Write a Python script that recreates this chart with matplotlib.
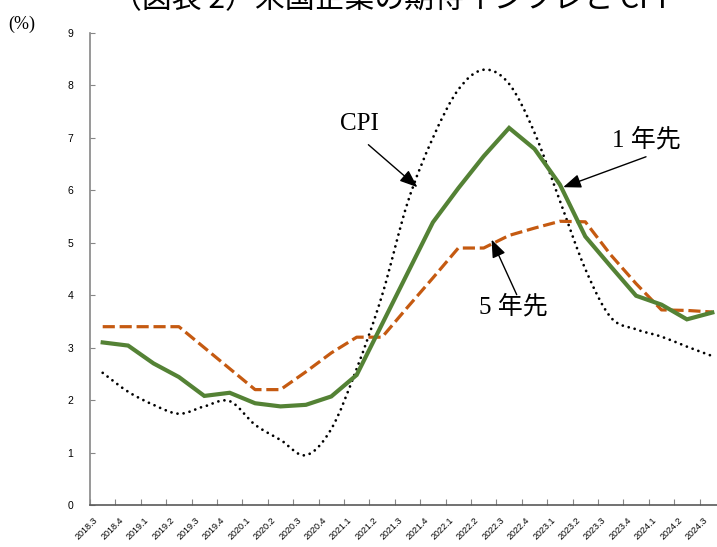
import numpy as np
import matplotlib
matplotlib.use("Agg")
from matplotlib import pyplot as plt
from matplotlib.path import Path
from matplotlib.patches import PathPatch
from matplotlib.transforms import ScaledTranslation

quarters = ["2018.3", "2018.4",
            "2019.1", "2019.2", "2019.3", "2019.4",
            "2020.1", "2020.2", "2020.3", "2020.4",
            "2021.1", "2021.2", "2021.3", "2021.4",
            "2022.1", "2022.2", "2022.3", "2022.4",
            "2023.1", "2023.2", "2023.3", "2023.4",
            "2024.1", "2024.2", "2024.3"]

# business inflation expectations, 1 year ahead / 5 years ahead (%)
one_year = [3.10, 3.04, 2.70, 2.44, 2.08, 2.14, 1.94, 1.88, 1.91, 2.07,
            2.48, 3.45, 4.42, 5.39, 6.04, 6.65, 7.19, 6.79, 6.11, 5.12,
            4.55, 3.99, 3.82, 3.54, 3.67]
five_year = [3.40, 3.40, 3.40, 3.40, 3.00, 2.60, 2.20, 2.20, 2.54, 2.90,
             3.20, 3.20, 3.77, 4.33, 4.90, 4.90, 5.14, 5.28, 5.41, 5.40,
             4.77, 4.22, 3.72, 3.71, 3.68]
cpi = [2.52, 2.16, 1.91, 1.74, 1.88, 1.98, 1.53, 1.24, 0.95, 1.45,
       2.60, 4.00, 5.76, 7.00, 7.92, 8.30, 8.03, 7.10, 5.80, 4.50,
       3.58, 3.35, 3.21, 3.02, 2.84]

SERIF_JP = ["Liberation Serif", "Noto Sans CJK JP"]


def smooth_path(x, y):
    # spreadsheet-style smoothed line: cubic bezier through every point
    pts = np.column_stack([x, y]).astype(float)
    ext = np.vstack([pts[0], pts, pts[-1]])
    verts = [pts[0]]
    codes = [Path.MOVETO]
    for i in range(len(pts) - 1):
        p0, p1, p2, p3 = ext[i], ext[i + 1], ext[i + 2], ext[i + 3]
        verts += [p1 + (p2 - p0) / 6.0, p2 - (p3 - p1) / 6.0, p2]
        codes += [Path.CURVE4] * 3
    return Path(verts, codes)


fig = plt.figure(figsize=(7.17, 5.47), dpi=100)
ax = fig.add_axes([90 / 717, 42 / 547, 635 / 717, 472 / 547])

x = np.arange(len(quarters))

cpi_line = PathPatch(smooth_path(x, cpi), fill=False, edgecolor="black",
                     lw=2.0, linestyle=(0, (0.01, 2.2)))
cpi_line.set_capstyle("round")
ax.add_patch(cpi_line)
ax.plot(x, five_year, color="#C55A11", lw=2.3, linestyle=(0, (3.8, 1.5)))
ax.plot(x, one_year, color="#548235", lw=3.0, solid_joinstyle="miter")

ax.set_xlim(-0.5, 24.5)
ax.set_ylim(0, 9)
ax.set_yticks(np.arange(0, 10))
ax.tick_params(axis="y", direction="in", length=3.5, color="#868686",
               pad=12, labelsize=7.5)
for lab in ax.get_yticklabels():
    lab.set_fontfamily("Liberation Sans")

ax.set_xticks(np.arange(-0.5, 24.5))
ax.set_xticklabels([])
ax.tick_params(axis="x", which="major", direction="in", length=4,
               color="#868686")
ax.set_xticks(x, labels=quarters, minor=True)
ax.tick_params(axis="x", which="minor", length=0, pad=10, labelsize=6.5)
shift = ScaledTranslation(-6 / 100, 0, fig.dpi_scale_trans)
for lab in ax.get_xticklabels(minor=True):
    lab.set_rotation(45)
    lab.set_ha("right")
    lab.set_va("center")
    lab.set_rotation_mode("anchor")
    lab.set_fontfamily("Liberation Sans")
    lab.set_transform(lab.get_transform() + shift)

for side in ("top", "right"):
    ax.spines[side].set_visible(False)
ax.spines["left"].set_color("#868686")
ax.spines["left"].set_linewidth(1.2)
ax.spines["bottom"].set_color("#595959")
ax.spines["bottom"].set_linewidth(1.2)

arrow = dict(arrowstyle="-|>,head_length=0.9,head_width=0.35",
             mutation_scale=12, color="black", lw=1.0,
             shrinkA=0, shrinkB=0)
ax.annotate("", xy=(12.39, 6.06), xytext=(10.46, 6.87), arrowprops=arrow)
ax.annotate("", xy=(18.13, 6.06), xytext=(21.39, 6.64), arrowprops=arrow)
ax.annotate("", xy=(15.31, 5.06), xytext=(16.30, 4.01), arrowprops=arrow)

ax.text(10.11, 7.27, "CPI", fontsize=18, family=SERIF_JP,
        ha="center", va="center")
ax.text(21.42, 6.96, "1 年先", fontsize=18, family=SERIF_JP,
        ha="center", va="center")
ax.text(16.15, 3.79, "5 年先", fontsize=18, family=SERIF_JP,
        ha="center", va="center")

fig.text(8 / 717, 1 - 24 / 547, "(%)", fontsize=13, family="Liberation Serif",
         ha="left", va="center")
fig.text(389 / 717, 1 - 8 / 547, "（図表 2）米国企業の期待インフレと CPI",
         fontsize=21.5, family=["Noto Sans CJK JP", "DejaVu Sans"],
         ha="center", va="baseline")

fig.savefig("out.png", dpi=100)
plt.close(fig)
